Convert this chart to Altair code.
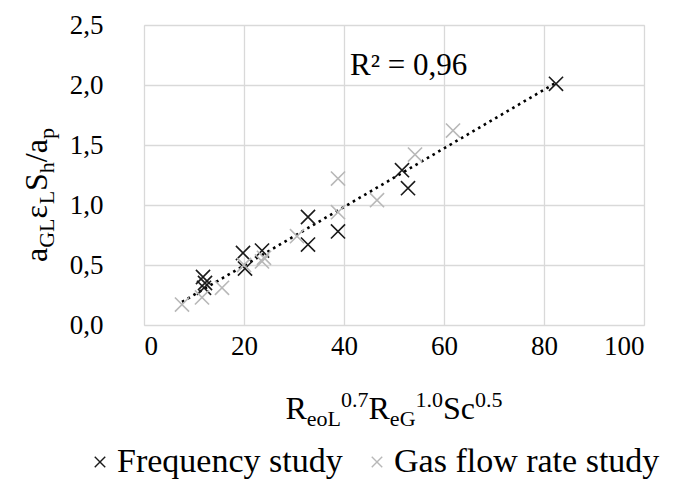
import altair as alt
import pandas as pd

# ---------------- data ----------------
freq_x = [11.8, 12.2, 12.0, 19.8, 20.2, 23.6, 32.8, 32.8, 38.8, 51.6, 52.8, 82.4]
freq_y = [0.40, 0.35, 0.31, 0.60, 0.47, 0.62, 0.90, 0.67, 0.78, 1.29, 1.14, 2.01]
gas_x = [7.6, 11.6, 15.6, 20.0, 23.6, 24.0, 30.6, 38.8, 38.8, 46.6, 54.2, 61.8]
gas_y = [0.17, 0.23, 0.31, 0.50, 0.53, 0.56, 0.74, 1.22, 0.94, 1.04, 1.42, 1.62]
series_names = ["Frequency study", "Gas flow rate study"]
series_colors = ["#1a1a1a", "#b8b8b8"]
x_ticks = [0, 20, 40, 60, 80, 100]
y_ticks = [0.0, 0.5, 1.0, 1.5, 2.0, 2.5]
r2_label = "R² = 0,96"

df = pd.DataFrame({
    "x": freq_x + gas_x,
    "y": freq_y + gas_y,
    "series": [series_names[0]] * len(freq_x) + [series_names[1]] * len(gas_x),
})

FONT = "'Liberation Serif', 'Times New Roman', 'DejaVu Serif', serif"
XPATH = "M-1,-1L1,1M-1,1L1,-1"
W, H = 500, 300
PAD_L, PAD_T = 136, 17

# Times / Liberation Serif advance widths (em)
MET = {"R": 0.667, "e": 0.444, "o": 0.5, "L": 0.611, "G": 0.722, "S": 0.556,
       "c": 0.444, "a": 0.444, "h": 0.5, "p": 0.5, "/": 0.278, ".": 0.25,
       "ε": 0.44}
for d in "0123456789":
    MET[d] = 0.5


def width(s, fs):
    return sum(MET.get(ch, 0.5) for ch in s) * fs


MAIN, SUB = 32, 22
SUB_SHIFT, SUP_SHIFT = 7, -12

x_pieces = [("R", "m"), ("eoL", "b"), ("0.7", "p"), ("R", "m"), ("eG", "b"),
            ("1.0", "p"), ("Sc", "m"), ("0.5", "p")]
y_pieces = [("a", "m"), ("GL", "b"), ("ε", "m"), ("L", "b"), ("S", "m"),
            ("h", "b"), ("/a", "m"), ("p", "b")]


def size_of(k):
    return MAIN if k == "m" else SUB


def shift_of(k):
    return {"m": 0, "b": SUB_SHIFT, "p": SUP_SHIFT}[k]


x_scale = alt.Scale(domain=[0, 100], nice=False, zero=False)
y_scale = alt.Scale(domain=[0, 2.5], nice=False)

points = alt.Chart(df).mark_point(
    shape=XPATH, filled=False, size=200, strokeWidth=1.6, opacity=1
).encode(
    x=alt.X("x:Q", scale=x_scale, axis=alt.Axis(
        values=x_ticks, title=None, grid=True, ticks=False, domain=False,
        labelFont=FONT, labelFontSize=27, labelColor="#000", labelPadding=8,
        gridColor="#d9d9d9", gridWidth=1.3)),
    y=alt.Y("y:Q", scale=y_scale, axis=alt.Axis(
        values=y_ticks, title=None, grid=True, ticks=False, domain=False,
        labelExpr="replace(format(datum.value, '.1f'), '.', ',')",
        labelFont=FONT, labelFontSize=27, labelColor="#000", labelPadding=41,
        gridColor="#d9d9d9", gridWidth=1.3)),
    color=alt.Color("series:N", scale=alt.Scale(domain=series_names, range=series_colors),
                    legend=alt.Legend(
                        orient="none", legendX=-61, legendY=420, direction="horizontal",
                        title=None, symbolType=XPATH, symbolSize=110, symbolStrokeWidth=1.4,
                        labelFont=FONT, labelFontSize=34, labelColor="#000", labelLimit=0,
                        labelOffset=0, columnPadding=17, symbolOffset=0, padding=0)),
)

trend = alt.Chart(df).transform_regression("x", "y").mark_line(
    color="#000", strokeWidth=2.6, strokeDash=[2.6, 4]
).encode(x=alt.X("x:Q", scale=x_scale), y=alt.Y("y:Q", scale=y_scale))

r2 = alt.Chart(pd.DataFrame({"t": [r2_label]})).mark_text(
    font=FONT, fontSize=31, align="left", baseline="alphabetic", color="#000"
).encode(x=alt.value(206), y=alt.value(50), text="t:N")

layers = [trend, points, r2]

# x-axis title pieces
total = sum(width(t, size_of(k)) for t, k in x_pieces)
cx = (W / 2) - total / 2
base_y = 394
for t, k in x_pieces:
    layers.append(alt.Chart(pd.DataFrame({"t": [t]})).mark_text(
        font=FONT, fontSize=size_of(k), align="left", baseline="alphabetic", color="#000"
    ).encode(x=alt.value(cx), y=alt.value(base_y + shift_of(k)), text="t:N"))
    cx += width(t, size_of(k))

# y-axis title pieces (rotated, reading upward)
total = sum(width(t, size_of(k)) for t, k in y_pieces)
cy = 170 + total / 2
base_x = -97
for t, k in y_pieces:
    layers.append(alt.Chart(pd.DataFrame({"t": [t]})).mark_text(
        font=FONT, fontSize=size_of(k), align="left", baseline="alphabetic",
        angle=270, color="#000"
    ).encode(x=alt.value(base_x + shift_of(k)), y=alt.value(cy), text="t:N"))
    cy -= width(t, size_of(k))

chart = alt.layer(*layers).properties(
    width=W, height=H,
    autosize=alt.AutoSizeParams(type="none"),
    padding={"left": PAD_L, "top": PAD_T, "right": 33, "bottom": 155},
).configure_view(stroke=None).configure(background="white")

chart.save("out.html", embed_options={"renderer": "svg", "actions": False})
